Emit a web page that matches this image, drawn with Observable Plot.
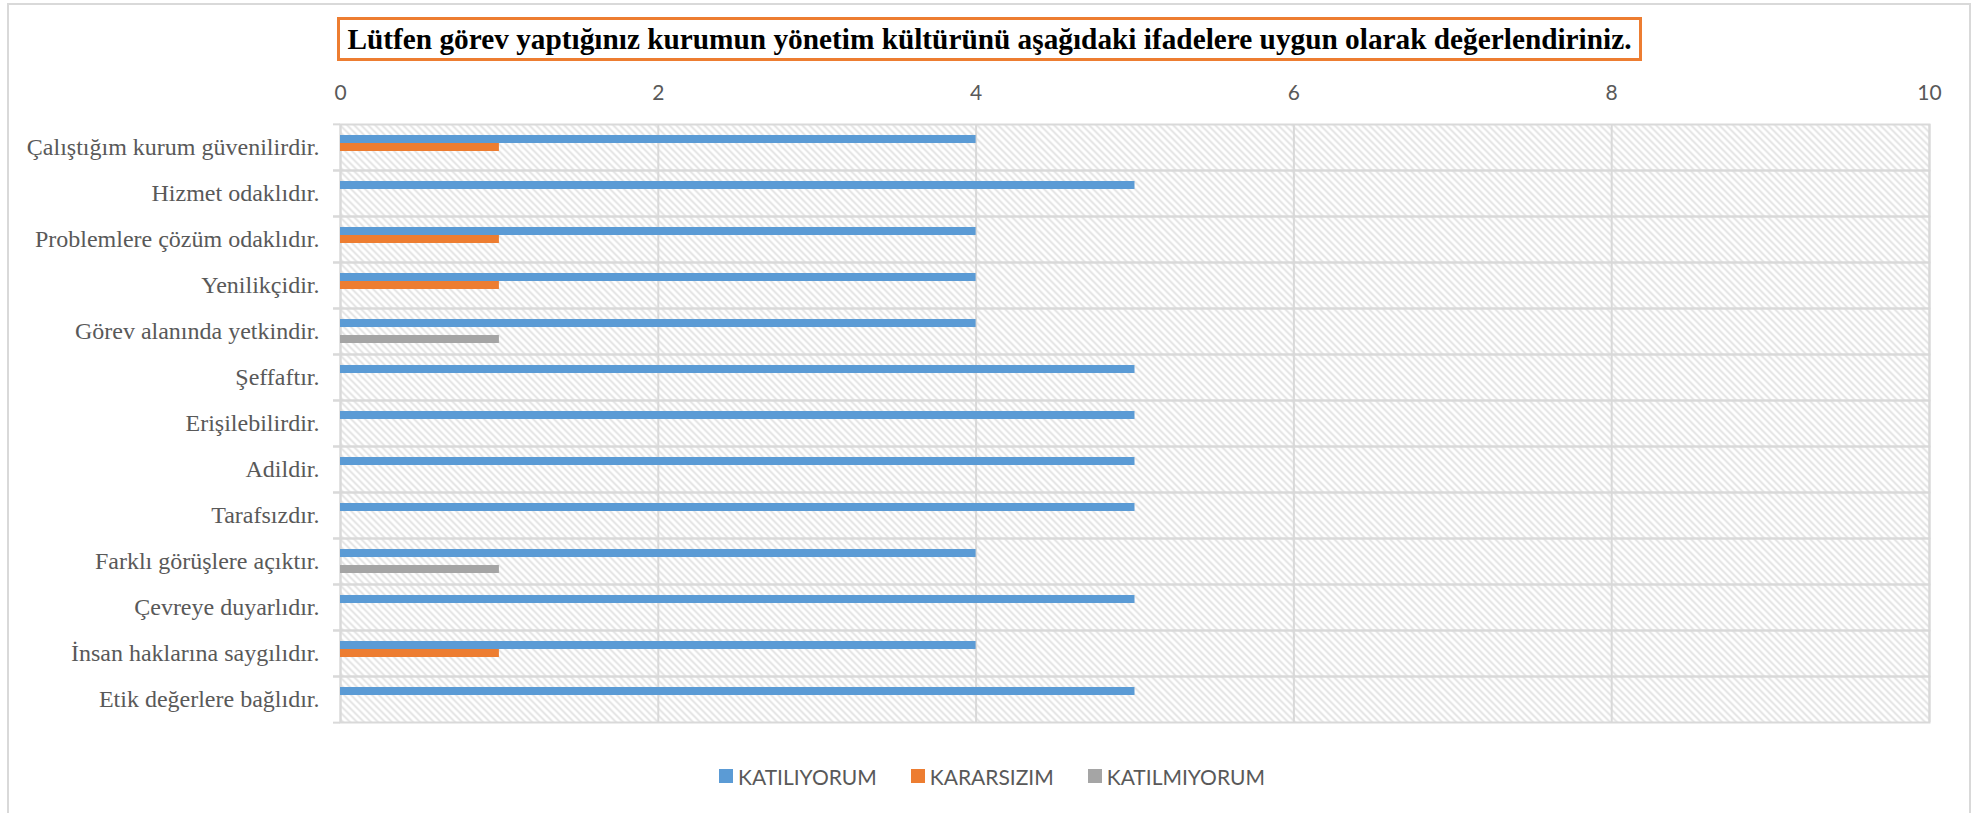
<!DOCTYPE html>
<html>
<head>
<meta charset="utf-8">
<script src="https://cdn.jsdelivr.net/npm/d3@7"></script>
<script src="https://cdn.jsdelivr.net/npm/@observablehq/plot@0.6"></script>
<style>
  html, body { margin: 0; padding: 0; background: #fff; }
  #chart { position: relative; width: 1984px; height: 813px; overflow: hidden; background: #fff; }
  #border { position: absolute; left: 7px; top: 3px; width: 1964px; height: 812px; box-sizing: border-box; border: 2px solid #d9d9d9; }
  #title { position: absolute; left: 337px; top: 17px; width: 1305px; height: 44px; box-sizing: border-box;
           border: 3px solid #ED7D31; display: flex; align-items: center; justify-content: center;
           font-family: "Liberation Serif", "Times New Roman", serif; font-weight: bold; font-size: 29.3px; color: #000; white-space: nowrap; }
  #plot { position: absolute; left: 0; top: 70px; }
  #legend { position: absolute; left: 0; top: 764px; width: 1984px; height: 24px; display: flex; justify-content: center; align-items: center; gap: 34px;
            font-family: Lato, "Open Sans", sans-serif; font-size: 21px; color: #595959; }
  .item { display: flex; align-items: center; gap: 5px; }
  .sw { width: 14px; height: 14px; }
</style>
</head>
<body>
<div id="chart">
  <div id="border"></div>
  <div id="title"></div>
  <div id="plot"></div>
  <div id="legend"></div>
</div>
<script>
const titleText = "Lütfen görev yaptığınız kurumun yönetim kültürünü aşağıdaki ifadelere uygun olarak değerlendiriniz.";
const categories = [
  "Çalıştığım kurum güvenilirdir.",
  "Hizmet odaklıdır.",
  "Problemlere çözüm odaklıdır.",
  "Yenilikçidir.",
  "Görev alanında yetkindir.",
  "Şeffaftır.",
  "Erişilebilirdir.",
  "Adildir.",
  "Tarafsızdır.",
  "Farklı görüşlere açıktır.",
  "Çevreye duyarlıdır.",
  "İnsan haklarına saygılıdır.",
  "Etik değerlere bağlıdır."
];
const series = ["KATILIYORUM", "KARARSIZIM", "KATILMIYORUM"];
const colors = ["#5B9BD5", "#ED7D31", "#A5A5A5"];
const katiliyorum  = [4, 5, 4, 4, 4, 5, 5, 5, 5, 4, 5, 4, 5];
const kararsizim   = [1, 0, 1, 1, 0, 0, 0, 0, 0, 0, 0, 1, 0];
const katilmiyorum = [0, 0, 0, 0, 1, 0, 0, 0, 0, 1, 0, 0, 0];
const xTicks = [0, 2, 4, 6, 8, 10];

const valuesBySeries = [katiliyorum, kararsizim, katilmiyorum];
const rows = [];
categories.forEach((c, i) => {
  series.forEach((s, j) => {
    const v = valuesBySeries[j][i];
    if (v > 0) rows.push({category: c, series: s, value: v});
  });
});

document.getElementById("title").textContent = titleText;

const W = 1984, H = 660, mT = 52, mB = 6, mL = 340, mR = 55;
const bw = (H - mT - mB) / categories.length;
const grey = "#d9d9d9";

const svg = Plot.plot({
  width: W, height: H,
  marginTop: mT, marginBottom: mB, marginLeft: mL, marginRight: mR,
  style: {background: "transparent", overflow: "visible"},
  x: {domain: [0, 10], label: null},
  y: {domain: series, axis: null, paddingInner: 0, paddingOuter: 1.28},
  fy: {domain: categories, padding: 0, label: null},
  color: {domain: series, range: colors},
  marks: [
    Plot.frame({fill: "url(#hatch)", stroke: null}),
    Plot.gridX(xTicks, {stroke: grey, strokeOpacity: 1, strokeWidth: 2}),
    Plot.frame({stroke: grey, strokeWidth: 2}),
    Plot.barX(rows, {x: "value", y: "series", fy: "category", fill: "series"}),
    Plot.axisX(xTicks, {anchor: "top", tickSize: 0, tickPadding: 31, lineAnchor: "middle", label: null,
      tickFormat: d => String(d), fontFamily: "Lato", fontSize: 21, color: "#595959"}),
    Plot.axisFy({anchor: "left", tickSize: 0, tickPadding: 21, fontFamily: "Liberation Serif", fontSize: 24, color: "#595959", label: null}),
    Plot.axisFy({anchor: "left", tickSize: 7, tickFormat: () => "", color: grey, strokeWidth: 2, dy: -bw / 2, label: null}),
    Plot.axisFy([categories[categories.length - 1]], {anchor: "left", tickSize: 7, tickFormat: () => "", color: grey, strokeWidth: 2, dy: bw / 2, label: null})
  ]
});

const defs = d3.select(svg).insert("defs", ":first-child");
const pat = defs.append("pattern").attr("id", "hatch").attr("patternUnits", "userSpaceOnUse")
  .attr("width", 7).attr("height", 7);
pat.append("rect").attr("width", 7).attr("height", 7).attr("fill", "#fff");
pat.append("path").attr("d", "M0,0L7,7M-1,6L1,8M6,-1L8,1").attr("stroke", "#e0e0e0").attr("stroke-width", 1.8);

document.getElementById("plot").appendChild(svg);

const legend = d3.select("#legend");
series.forEach((s, i) => {
  const it = legend.append("div").attr("class", "item");
  it.append("div").attr("class", "sw").style("background", colors[i]);
  it.append("span").text(s);
});
</script>
</body>
</html>
